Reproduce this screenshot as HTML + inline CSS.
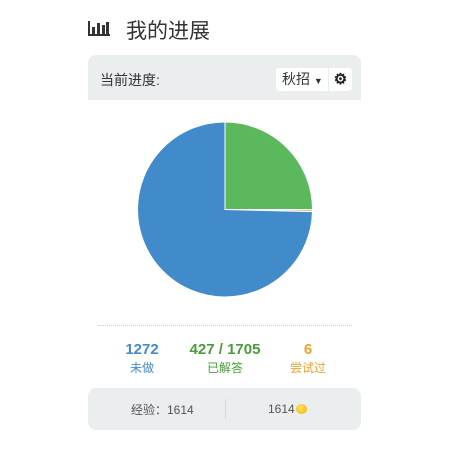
<!DOCTYPE html>
<html><head><meta charset="utf-8"><style>
body{margin:0;width:450px;height:450px;background:#fff;font-family:"Liberation Sans","Noto Sans CJK SC",sans-serif;position:relative;overflow:hidden}
.abs{position:absolute}
</style></head><body>
<div class="abs" style="left:88px;top:19px;width:22px;height:18px">
<svg width="22" height="18"><g fill="#333"><rect x="0" y="2" width="2" height="15"/><rect x="0" y="15" width="22" height="2"/><rect x="4" y="8" width="3" height="7"/><rect x="9" y="4" width="3" height="11"/><rect x="14" y="6" width="3" height="9"/><rect x="18" y="3" width="3" height="12"/></g></svg></div>
<div class="abs" style="left:126px;top:15px;font-size:21px;color:#333">我的进展</div>
<div class="abs" style="left:88px;top:55px;width:273px;height:45px;background:#ebeeef;border-radius:8px 8px 0 0">
<div class="abs" style="left:12px;top:15px;font-size:14px;color:#333">当前进度:</div>
<div class="abs" style="left:188px;top:13px;width:52px;height:23px;background:#fff;border-radius:4px 0 0 4px;font-size:14px;color:#333;line-height:23px;padding-left:6px;box-sizing:border-box">秋招 <span style="font-size:9px">▼</span></div>
<div class="abs" style="left:241px;top:13px;width:23px;height:23px;background:#fff;border-radius:0 4px 4px 0;font-size:15px;font-weight:bold;text-align:center;line-height:23px;color:#222">⚙</div>
</div>
<svg class="abs" style="left:0;top:0" width="450" height="320" id="pie"></svg>
<div class="abs" style="left:98px;top:325px;width:254px;border-top:1px dotted #ccc"></div>
<div class="abs" style="left:112px;top:341px;width:60px;text-align:center;color:#428bca"><div style="font-size:15px;font-weight:bold">1272</div><div style="font-size:12px;margin-top:1px">未做</div></div>
<div class="abs" style="left:175px;top:341px;width:100px;text-align:center;color:#4a9c3a"><div style="font-size:15px;font-weight:bold">427 / 1705</div><div style="font-size:12px;margin-top:1px">已解答</div></div>
<div class="abs" style="left:288px;top:341px;width:40px;text-align:center;color:#f0a030"><div style="font-size:15px;font-weight:bold">6</div><div style="font-size:12px;margin-top:1px">尝试过</div></div>
<div class="abs" style="left:88px;top:388px;width:273px;height:42px;background:#ebeeef;border-radius:8px">
<div class="abs" style="left:43px;top:13px;font-size:12px;color:#555">经验：1614</div>
<div class="abs" style="left:137px;top:11px;height:20px;border-left:1px solid #d6d9db"></div>
<div class="abs" style="left:180px;top:14px;font-size:12px;color:#555">1614<span style="display:inline-block;width:11px;height:10px;border-radius:50%;background:radial-gradient(circle at 40% 35%,#ffe45c,#f0b000);vertical-align:-1px;margin-left:1px"></span></div>
</div>
<script>
const labels=["已解答","尝试过","未做"];
const values=[427,6,1272];
const colors=["#5cb85c","#f0ad4e","#428bca"];
const svg=document.getElementById('pie');
const cx=225,cy=209.5,r=87.5;
const total=values.reduce((a,b)=>a+b,0);
let a0=-Math.PI/2;
values.forEach((v,i)=>{
  const a1=a0+v/total*2*Math.PI;
  const x0=cx+r*Math.cos(a0),y0=cy+r*Math.sin(a0),x1=cx+r*Math.cos(a1),y1=cy+r*Math.sin(a1);
  const large=(a1-a0)>Math.PI?1:0;
  const p=document.createElementNS('http://www.w3.org/2000/svg','path');
  p.setAttribute('d',`M${cx},${cy}L${x0},${y0}A${r},${r} 0 ${large} 1 ${x1},${y1}Z`);
  p.setAttribute('fill',colors[i]);
  p.setAttribute('stroke','#fff');
  p.setAttribute('stroke-width','1');
  
  
  svg.appendChild(p);
  a0=a1;
});
</script>
</body></html>
